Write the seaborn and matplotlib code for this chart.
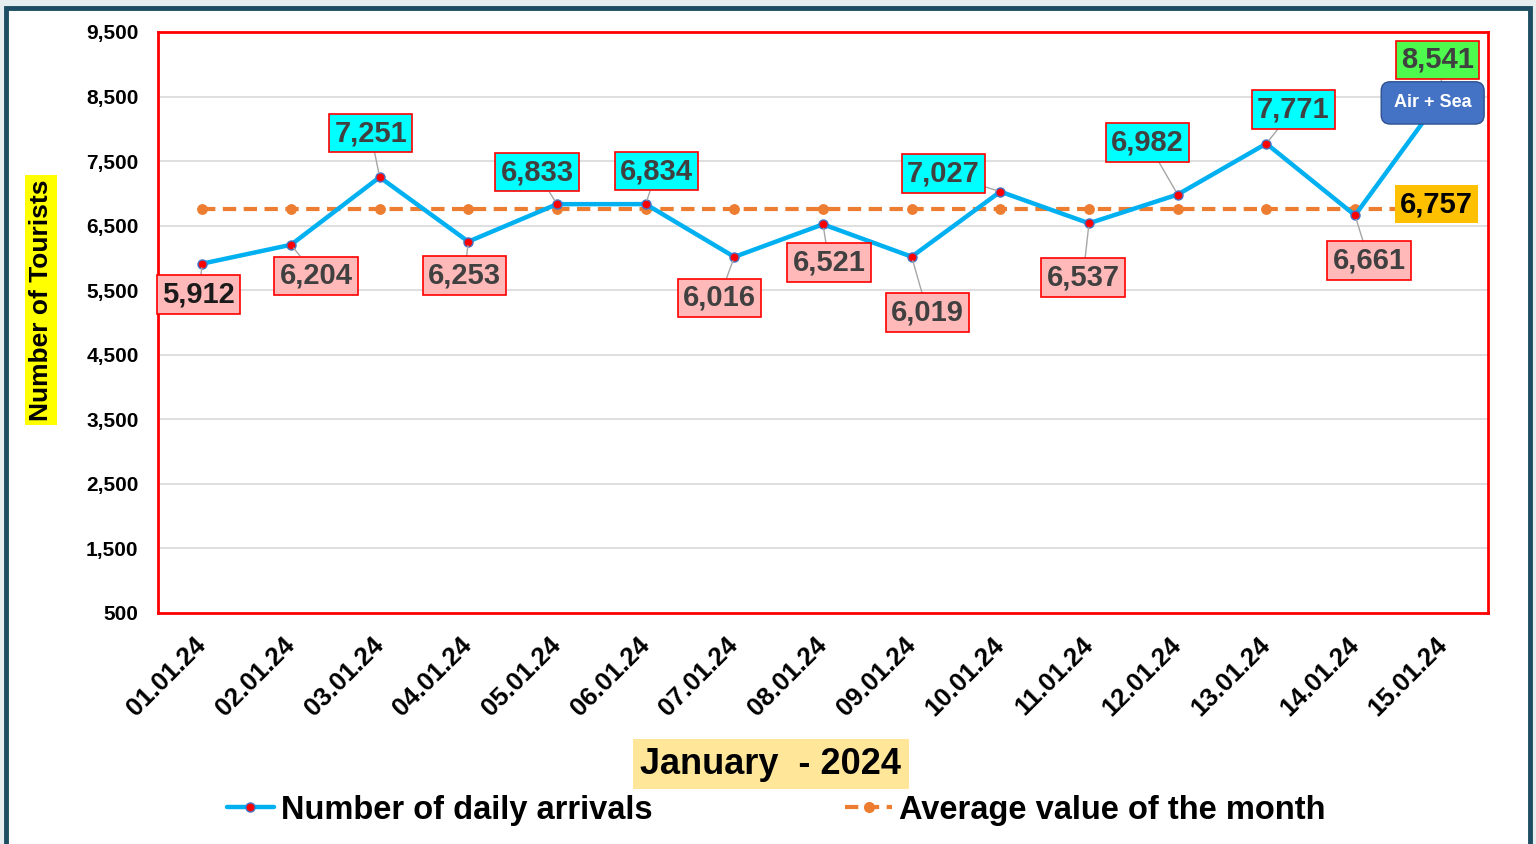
import numpy as np
import pandas as pd
import matplotlib
matplotlib.use("Agg")
import matplotlib.pyplot as plt
import seaborn as sns
from matplotlib.patches import Rectangle
from matplotlib.lines import Line2D

# data
dates = ["01.01.24", "02.01.24", "03.01.24", "04.01.24", "05.01.24",
         "06.01.24", "07.01.24", "08.01.24", "09.01.24", "10.01.24",
         "11.01.24", "12.01.24", "13.01.24", "14.01.24", "15.01.24"]
arrivals = [5912, 6204, 7251, 6253, 6833, 6834, 6016, 6521, 6019, 7027,
            6537, 6982, 7771, 6661, 8541]
month_average = 6757
y_ticks = [500, 1500, 2500, 3500, 4500, 5500, 6500, 7500, 8500, 9500]

# label placement (pixel offsets from the point) and box colours
label_offsets = [(-4, -31), (25, -31), (-9, 44), (-4, -34), (-20, 32),
                 (11, 33), (-15, -41), (6, -38), (16, -56), (-57, 18),
                 (-6, -54), (-30, 52), (27, 34), (14, -45), (-6, 34)]
PINK, CYAN, GREEN = "#FFB9B9", "#00FFFF", "#4DFA4D"
label_colors = [PINK, PINK, CYAN, PINK, CYAN, CYAN, PINK, PINK, PINK, CYAN,
                PINK, CYAN, CYAN, PINK, GREEN]

df = pd.DataFrame({"date": dates, "arrivals": arrivals,
                   "average": [month_average] * len(dates)})

sns.set_theme(style="whitegrid")
plt.rcParams["font.family"] = ["Liberation Sans", "DejaVu Sans"]
plt.rcParams["font.weight"] = "bold"
plt.rcParams["text.color"] = "black"

fig = plt.figure(figsize=(15.36, 8.44), dpi=100, facecolor="#E6EEF0")
# outer frame
frame = Rectangle((6 / 1536, -0.05), 1524 / 1536, 1.05 - 8 / 844,
                  transform=fig.transFigure, facecolor="white",
                  edgecolor="#1D4E63", linewidth=3.5, zorder=-10)
fig.patches.append(frame)

ax = fig.add_axes([158 / 1536, 1 - 613 / 844, 1330 / 1536, 581 / 844])
ax.set_facecolor("white")

sns.lineplot(data=df, x="date", y="average", ax=ax, sort=False,
             color="#ED7D31", linewidth=3, linestyle=(0, (3.2, 1.8)),
             marker="o", markersize=7, markeredgecolor="#ED7D31", zorder=3)
sns.lineplot(data=df, x="date", y="arrivals", ax=ax, sort=False,
             color="#00B0F0", linewidth=3.2, marker="o", markersize=6.5,
             markerfacecolor="#FF0000", markeredgecolor="#4472C4",
             markeredgewidth=1, zorder=4)

ax.set_xlim(-0.5, len(dates) - 0.5)
ax.set_ylim(500, 9500)
ax.set_yticks(y_ticks)
ax.set_yticklabels([f"{v:,}" for v in y_ticks], fontsize=15, fontweight="bold")
ax.tick_params(axis="y", length=0, pad=14, colors="black")
ax.tick_params(axis="x", length=0, pad=20, colors="black")
plt.setp(ax.get_xticklabels(), rotation=45, ha="right", va="center",
         rotation_mode="anchor", fontsize=18.5, fontweight="bold")
ax.grid(axis="x", visible=False)
ax.grid(axis="y", color="#D9D9D9", linewidth=1.2)
for sp in ax.spines.values():
    sp.set_color("#FF0000")
    sp.set_linewidth(2)

# data labels
px = 0.72
for i, (d, v) in enumerate(zip(dates, arrivals)):
    dx, dy = label_offsets[i]
    tc = "#1A1A1A" if i == 0 else "#404040"
    ax.annotate(f"{v:,}", xy=(i, v), xytext=(dx * px, dy * px),
                textcoords="offset points", ha="center", va="center",
                fontsize=21, fontweight="bold", color=tc, zorder=6,
                bbox=dict(boxstyle="square,pad=0.18", facecolor=label_colors[i],
                          edgecolor="#FF0000", linewidth=1.2),
                arrowprops=dict(arrowstyle="-", color="#A6A6A6", lw=1,
                                shrinkA=0, shrinkB=3))

# average label
ax.annotate(f"{month_average:,}", xy=(len(dates) - 1, month_average),
            xytext=(-7 * px, 5 * px), textcoords="offset points",
            ha="center", va="center", fontsize=21, fontweight="bold",
            color="black", zorder=6,
            bbox=dict(boxstyle="square,pad=0.18", facecolor="#FFC000",
                      edgecolor="none"))

# Air + Sea tag
ax.annotate("Air + Sea", xy=(len(dates) - 1, arrivals[-1]),
            xytext=(-11 * px, -9 * px), textcoords="offset points",
            ha="center", va="center", fontsize=13, fontweight="bold",
            color="white", zorder=7,
            bbox=dict(boxstyle="round,pad=0.7,rounding_size=0.5",
                      facecolor="#4472C4", edgecolor="#2F528F", linewidth=1))

ax.set_xlabel("January  - 2024", fontsize=26, fontweight="bold", color="black",
              bbox=dict(boxstyle="square,pad=0.2", facecolor="#FFE699",
                        edgecolor="none"))
ax.xaxis.set_label_coords((771 - 158) / 1330, (613 - 764) / 581)
ax.xaxis.label.set_va("center")

ax.set_ylabel("Number of Tourists", fontsize=19, fontweight="bold", color="black",
              bbox=dict(boxstyle="square,pad=0.15", facecolor="#FFFF00",
                        edgecolor="none"))
ax.yaxis.set_label_coords((41 - 158) / 1330, (613 - 300) / 581)
ax.yaxis.label.set_va("center")

handles = [
    Line2D([0], [0], color="#00B0F0", linewidth=3.2, marker="o",
           markersize=6.5, markerfacecolor="#FF0000", markeredgecolor="#4472C4"),
    Line2D([0], [0], color="#ED7D31", linewidth=3, linestyle=(0, (3.2, 1.8)),
           marker="o", markersize=7, markeredgecolor="#ED7D31"),
]
leg = fig.legend(handles, ["Number of daily arrivals", "Average value of the month"],
                 loc="center", bbox_to_anchor=(776 / 1536, 1 - 810 / 844), ncol=2,
                 frameon=False, handlelength=1.45, handletextpad=0.2,
                 columnspacing=5.9, prop={"size": 23.5, "weight": "bold"})
for t in leg.get_texts():
    t.set_color("black")

fig.savefig("out.png", dpi=100, facecolor=fig.get_facecolor())
